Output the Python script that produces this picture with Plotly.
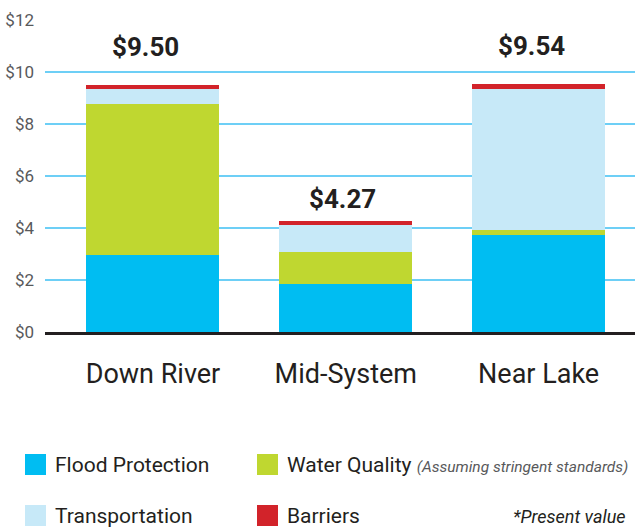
import plotly.graph_objects as go

categories = ["Down River", "Mid-System", "Near Lake"]
flood = [2.95, 1.83, 3.72]
water = [5.82, 1.25, 0.20]
transport = [0.58, 1.04, 5.42]
barriers = [0.15, 0.15, 0.20]
totals = [9.50, 4.27, 9.54]
total_labels = ["$9.50", "$4.27", "$9.54"]
yticks = [0, 2, 4, 6, 8, 10, 12]
ytick_text = ["$0", "$2", "$4", "$6", "$8", "$10", "$12"]

series = [
    ("Flood Protection", flood, "#00bdf2"),
    ("Water Quality", water, "#bfd730"),
    ("Transportation", transport, "#c7e9f8"),
    ("Barriers", barriers, "#d2232a"),
]

FONT = "Roboto"
DARK = "#231f20"

W, H = 635, 527
L, R, T, B = 45, 0, 20, 195
PW, PH = W - L - R, H - T - B


def px(x):
    return (x - L) / PW


def py(y):
    return (H - B - y) / PH


fig = go.Figure()
for name, vals, color in series:
    fig.add_trace(go.Bar(x=categories, y=vals, name=name, marker=dict(color=color, line=dict(width=0)),
                         width=0.69, showlegend=False))

for cat, tot, lab, ys, xs in zip(categories, totals, total_labels, [38, 22, 38], [-7, -3, -7]):
    fig.add_annotation(x=cat, y=tot, text="<b>" + lab + "</b>", showarrow=False, yanchor="middle",
                       yshift=ys, xshift=xs, font=dict(family=FONT, size=26, color=DARK))

# manual legend
legend_items = [
    ("Flood Protection", "#00bdf2", 25, 454, None),
    ("Water Quality", "#bfd730", 257, 454, "(Assuming stringent standards)"),
    ("Transportation", "#c7e9f8", 25, 505, None),
    ("Barriers", "#d2232a", 257, 505, None),
]
for name, color, x0, y0, note in legend_items:
    fig.add_shape(type="rect", xref="paper", yref="paper", x0=px(x0), x1=px(x0 + 21), y0=py(y0), y1=py(y0 + 21),
                  fillcolor=color, line=dict(width=0), layer="above")
    text = name
    if note:
        text += " <i><span style='font-size:15.5px;color:#58595b'>" + note + "</span></i>"
    fig.add_annotation(xref="paper", yref="paper", x=px(x0 + 28), y=py(y0 + 11), text=text, showarrow=False,
                       xanchor="left", yanchor="middle", font=dict(family=FONT, size=21, color=DARK))

fig.add_annotation(xref="paper", yref="paper", x=px(628), y=py(516), text="<i>*Present value</i>",
                   showarrow=False, xanchor="right", yanchor="middle",
                   font=dict(family=FONT, size=18, color=DARK))

fig.update_layout(
    barmode="stack",
    width=W, height=H,
    margin=dict(l=L, r=R, t=T, b=B, pad=0),
    paper_bgcolor="white", plot_bgcolor="white",
    bargap=0.3,
    xaxis=dict(range=[-0.56, 2.50], showgrid=False, showline=True, linecolor=DARK, linewidth=3,
               tickfont=dict(family=FONT, size=27, color=DARK), ticks="", ticklabelstandoff=16),
    yaxis=dict(range=[0, 12], tickvals=yticks, ticktext=ytick_text, showgrid=True, gridcolor="#6dcff6",
               gridwidth=2, zeroline=False, showline=False, ticks="", ticklabelstandoff=10,
               tickfont=dict(family=FONT, size=17, color="#58595b")),
)

fig.write_html("out.html")
